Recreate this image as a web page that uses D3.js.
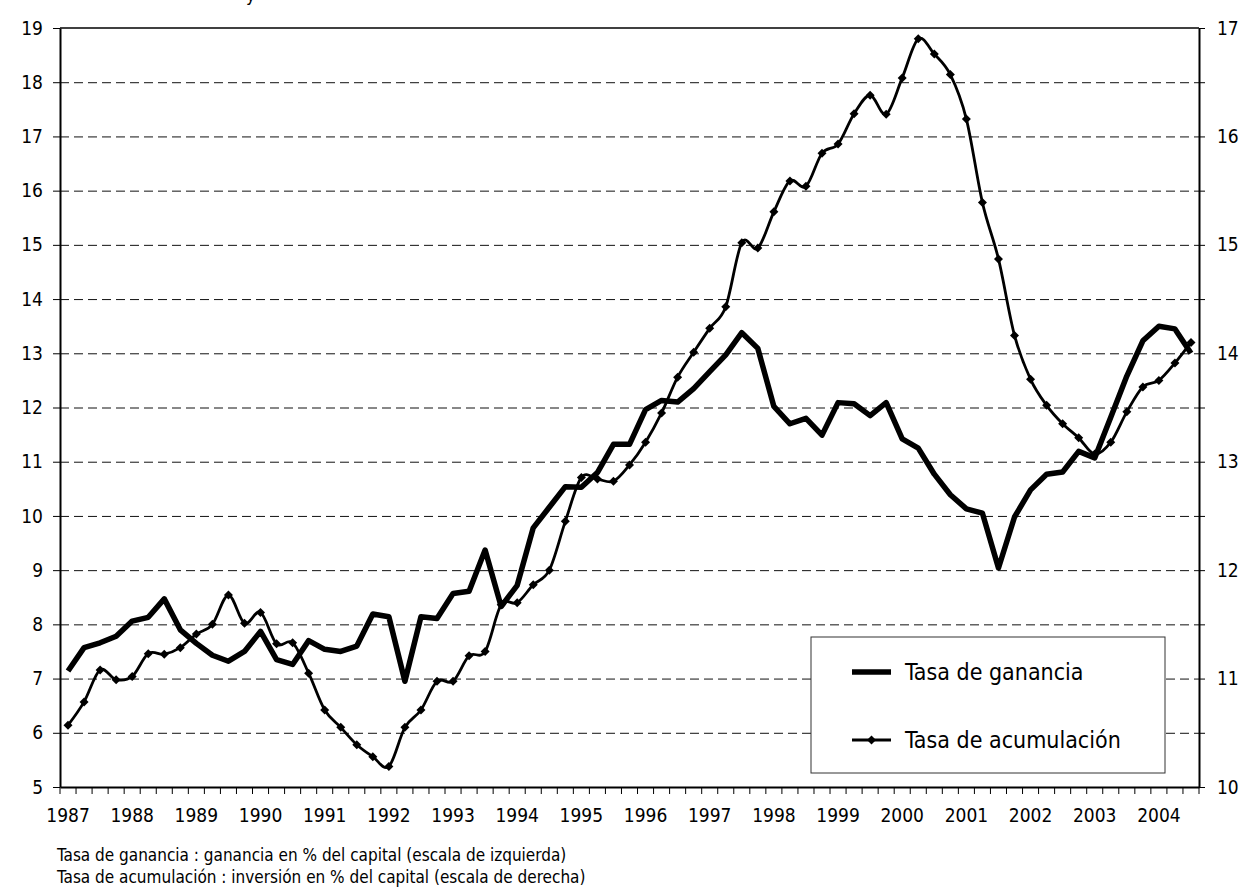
<!DOCTYPE html>
<html>
<head>
<meta charset="utf-8">
<script src="https://cdn.jsdelivr.net/npm/d3@7"></script>
<style>
body { margin: 0; background: #fff; }
svg text { font-family: Tahoma, "DejaVu Sans Condensed", "Liberation Sans", sans-serif; fill: #000; }
</style>
</head>
<body>
<svg id="chart" width="1257" height="891"></svg>
<script>
// quarterly data, 1987 T1 .. 2004 T3
const years = [1987, 1988, 1989, 1990, 1991, 1992, 1993, 1994, 1995, 1996,
               1997, 1998, 1999, 2000, 2001, 2002, 2003, 2004]
const quarters = years.flatMap(y => ["T1", "T2", "T3", "T4"].map(q => y + q)).slice(0, 71)

// Tasa de ganancia (left scale)
const ganancia = [
  7.14, 7.57, 7.66, 7.78, 8.06, 8.13, 8.47, 7.90, 7.65, 7.43, 7.32, 7.50,
  7.87, 7.35, 7.26, 7.70, 7.54, 7.50, 7.60, 8.19, 8.14, 6.95, 8.14, 8.11,
  8.57, 8.61, 9.37, 8.33, 8.72, 9.78, 10.16, 10.54, 10.53, 10.80, 11.32, 11.32,
  11.96, 12.13, 12.10, 12.35, 12.66, 12.97, 13.38, 13.09, 12.02, 11.70, 11.80, 11.49,
  12.09, 12.07, 11.85, 12.09, 11.42, 11.25, 10.77, 10.39, 10.13, 10.05, 9.04, 9.98,
  10.48, 10.77, 10.81, 11.19, 11.07, 11.82, 12.58, 13.23, 13.50, 13.45, 13.00
]

// Tasa de acumulación (right scale)
const acumulacion = [
  10.57, 10.785, 11.08, 10.99, 11.02, 11.23, 11.225, 11.285, 11.41, 11.50, 11.77, 11.51,
  11.61, 11.32, 11.33, 11.05, 10.71, 10.55, 10.39, 10.28, 10.19, 10.55, 10.71, 10.975,
  10.975, 11.21, 11.25, 11.68, 11.70, 11.865, 12.00, 12.45, 12.855, 12.84, 12.82, 12.97,
  13.18, 13.45, 13.78, 14.01, 14.23, 14.43, 15.02, 14.97, 15.305, 15.59, 15.54, 15.845,
  15.93, 16.21, 16.38, 16.205, 16.54, 16.90, 16.76, 16.57, 16.16, 15.39, 14.87, 14.165,
  13.76, 13.52, 13.35, 13.22, 13.07, 13.18, 13.46, 13.69, 13.75, 13.91, 14.10
]

const leftTicks = [5, 6, 7, 8, 9, 10, 11, 12, 13, 14, 15, 16, 17, 18, 19]
const rightTicks = [10, 11, 12, 13, 14, 15, 16, 17]
const seriesNames = ["Tasa de ganancia", "Tasa de acumulación"]
const notes = [
  "Tasa de ganancia : ganancia en % del capital (escala de izquierda)",
  "Tasa de acumulación : inversión en % del capital (escala de derecha)"
]

const plot = {left: 60, right: 1199, top: 28, bottom: 787}

const svg = d3.select("#chart")

const x = d3.scaleBand().domain(quarters).range([plot.left, plot.right])
const yL = d3.scaleLinear().domain([5, 19]).range([plot.bottom, plot.top])
const yR = d3.scaleLinear().domain([10, 17]).range([plot.bottom, plot.top])
const cx = q => x(q) + x.bandwidth() / 2

// title sits above the page edge, only the descender of the "y" shows
svg.append("text").attr("x", 246).attr("y", 1).style("font-size", "18px").text("y")

// grid
const grid = svg.append("g")
    .attr("transform", `translate(${plot.left},0)`)
    .call(d3.axisLeft(yL)
        .tickValues(leftTicks.slice(1, -1))
        .tickSize(-(plot.right - plot.left))
        .tickFormat(""))
grid.select(".domain").remove()
grid.selectAll("line")
    .attr("stroke", "#111")
    .attr("stroke-width", 1)
    .attr("stroke-dasharray", "9,5")

// plot border (top)
svg.append("line")
    .attr("x1", plot.left).attr("x2", plot.right)
    .attr("y1", plot.top).attr("y2", plot.top)
    .attr("stroke", "#000").attr("stroke-width", 1.4)

// left axis
const gl = svg.append("g")
    .attr("transform", `translate(${plot.left},0)`)
    .call(d3.axisLeft(yL).tickValues(leftTicks).tickSize(7).tickPadding(10).tickSizeOuter(0))
gl.select(".domain").attr("stroke-width", 2)
gl.selectAll("text").style("font-size", "19px")

// right axis
const rightAll = d3.range(rightTicks[0], rightTicks[rightTicks.length - 1] + 0.01, 0.5)
const gr = svg.append("g")
    .attr("transform", `translate(${plot.right},0)`)
    .call(d3.axisRight(yR).tickValues(rightAll).tickSize(6).tickPadding(12).tickSizeOuter(0)
        .tickFormat(d => rightTicks.includes(d) ? d : ""))
gr.select(".domain").attr("stroke-width", 2)
gr.selectAll("text").style("font-size", "19px")

// bottom axis: year labels on first quarter
const gb = svg.append("g")
    .attr("transform", `translate(0,${plot.bottom})`)
    .call(d3.axisBottom(x)
        .tickValues(quarters.filter(q => q.endsWith("T1")))
        .tickFormat(q => q.slice(0, 4))
        .tickSize(0).tickPadding(22))
gb.select(".domain").attr("stroke-width", 2)
gb.selectAll("text").style("font-size", "19px")

// quarter tick marks on band edges
gb.selectAll("line.qtick")
    .data(d3.range(quarters.length + 1))
    .enter().append("line")
    .attr("class", "qtick")
    .attr("x1", i => plot.left + i * x.step())
    .attr("x2", i => plot.left + i * x.step())
    .attr("y1", 0).attr("y2", 7)
    .attr("stroke", "#000")

// series
const lineG = d3.line().x((d, i) => cx(quarters[i])).y(d => yL(d))
svg.append("path")
    .datum(ganancia)
    .attr("d", lineG)
    .attr("fill", "none")
    .attr("stroke", "#000")
    .attr("stroke-width", 5.5)
    .attr("stroke-linejoin", "round")

const lineA = d3.line()
    .x((d, i) => cx(quarters[i]))
    .y(d => yR(d))
    .curve(d3.curveCatmullRom.alpha(0))
svg.append("path")
    .datum(acumulacion)
    .attr("d", lineA)
    .attr("fill", "none")
    .attr("stroke", "#000")
    .attr("stroke-width", 2.8)

const diamond = "M0,-4.5L4.5,0L0,4.5L-4.5,0Z"
svg.append("g").selectAll("path")
    .data(acumulacion)
    .enter().append("path")
    .attr("d", diamond)
    .attr("transform", (d, i) => `translate(${cx(quarters[i])},${yR(d)})`)
    .attr("fill", "#000")

// legend
const lg = svg.append("g")
lg.append("rect")
    .attr("x", 811).attr("y", 637)
    .attr("width", 354).attr("height", 136)
    .attr("fill", "#fff").attr("stroke", "#333").attr("stroke-width", 1)
lg.append("line")
    .attr("x1", 852).attr("x2", 891).attr("y1", 672).attr("y2", 672)
    .attr("stroke", "#000").attr("stroke-width", 5.5)
lg.append("line")
    .attr("x1", 852).attr("x2", 891).attr("y1", 740).attr("y2", 740)
    .attr("stroke", "#000").attr("stroke-width", 2.8)
lg.append("path").attr("d", diamond).attr("transform", "translate(871.5,740)")
lg.selectAll("text.lt")
    .data(seriesNames)
    .enter().append("text")
    .attr("class", "lt")
    .attr("x", 905)
    .attr("y", (d, i) => i ? 748 : 680)
    .style("font-size", "23px")
    .text(d => d)

// footnotes
svg.selectAll("text.note")
    .data(notes)
    .enter().append("text")
    .attr("class", "note")
    .attr("x", 57)
    .attr("y", (d, i) => 861 + i * 22)
    .style("font-size", "17px")
    .text(d => d)
</script>
</body>
</html>
